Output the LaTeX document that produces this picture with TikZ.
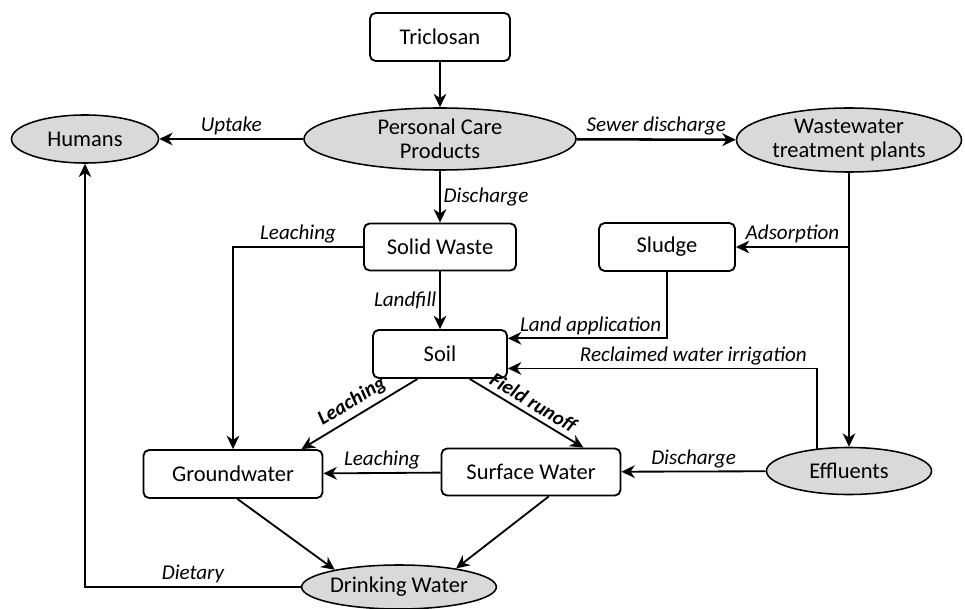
\documentclass[tikz,border=0pt]{standalone}
\usepackage{fontspec}
\setmainfont{Carlito}
\usetikzlibrary{shapes.geometric,arrows.meta}
\begin{document}
\begin{tikzpicture}[x=0.025cm,y=-0.025cm,
box/.style={%
draw,
line width=1.3pt,
rounded corners=4pt,
font={\fontsize{16pt}{18pt}\selectfont},
minimum height=1.2cm,
inner sep=0,
},
blob/.style={%
ellipse,
draw,
line width=1.1pt,
fill=gray!30,
inner sep=0,
align=center,
font={\fontsize{16pt}{17pt}\selectfont},
},
lbl/.style={%
font={\itshape\fontsize{15pt}{17pt}\selectfont},
inner sep=2pt,
},
blbl/.style={%
lbl,
inner sep=1pt,
outer sep=3pt,
font={\bfseries\itshape\fontsize{14.5pt}{16pt}\selectfont},
},
arr/.style={%
-{Stealth[length=9.5pt,width=9pt,inset=3pt]},
line width=1.3pt,
}
]
\useasboundingbox (0,0) rectangle (965,609);

%Sources
\node[box,minimum width=3.5cm](tric)at(440,37){Triclosan};
\node[blob,minimum width=6.8cm,minimum height=1.55cm](pcp)at(440,139){Personal Care\\Products};
\node[blob,minimum width=3.675cm,minimum height=1.2cm](hum)at(85,139){Humans};
\node[blob,minimum width=5.625cm,minimum height=1.6cm](wwtp)at(849,140){Wastewater\\treatment plants};

%Middle
\node[box,minimum width=3.8cm,minimum height=1.175cm](solid)at(440,247){Solid Waste};
\node[box,minimum width=3.4cm](sludge)at(667,247){Sludge};
\node[box,minimum width=3.35cm](soil)at(440,354){Soil};

%Water
\node[box,minimum width=4.475cm](gw)at(233,474){Groundwater};
\node[box,minimum width=4.475cm,minimum height=1.175cm](surf)at(531,472){Surface Water};
\node[blob,minimum width=4.125cm,minimum height=1.175cm](effl)at(849,471){Effluents};
\node[blob,minimum width=4.8cm,minimum height=1.1cm](drink)at(399,587){Drinking Water};

%Connectors
\draw[arr](tric)--(pcp);
\draw[arr](pcp)--(hum)node[lbl,midway,above]{Uptake};
\draw[arr,line width=1.8pt](pcp)--(wwtp)node[lbl,midway,above]{Sewer discharge};
\draw[arr](pcp)--(solid)node[lbl,midway,right]{Discharge};
\draw[arr](wwtp)--(effl);
\draw[arr](sludge.east-|wwtp.south)--(sludge.east)node[lbl,midway,above]{Adsorption};
\draw[arr](solid.west)-|(gw.north)node[lbl,pos=0.25,above]{Leaching};
\draw[arr](solid)--(soil)node[lbl,midway,left]{Landfill};
\draw[arr](sludge.south)|-(soil.13)node[lbl,pos=0.74,above]{Land application};
\draw[arr](effl.145)|-(soil.-12)node[lbl,pos=0.7,above]{Reclaimed water irrigation};
\draw[arr](soil.-132)--(gw.20)node[blbl,midway,sloped,above]{Leaching};
\draw[arr](soil.-40)--(surf.25)node[blbl,midway,sloped,above]{Field runoff};
\draw[arr](effl)--(surf)node[lbl,midway,above]{Discharge};
\draw[arr](surf)--(gw)node[lbl,midway,above]{Leaching};
\draw[arr](gw.-80)--(drink.165);
\draw[arr](surf.-54)--(drink.18);
\draw[arr](drink.west)-|(hum.south)node[lbl,pos=0.25,above]{Dietary};
\end{tikzpicture}
\end{document}
